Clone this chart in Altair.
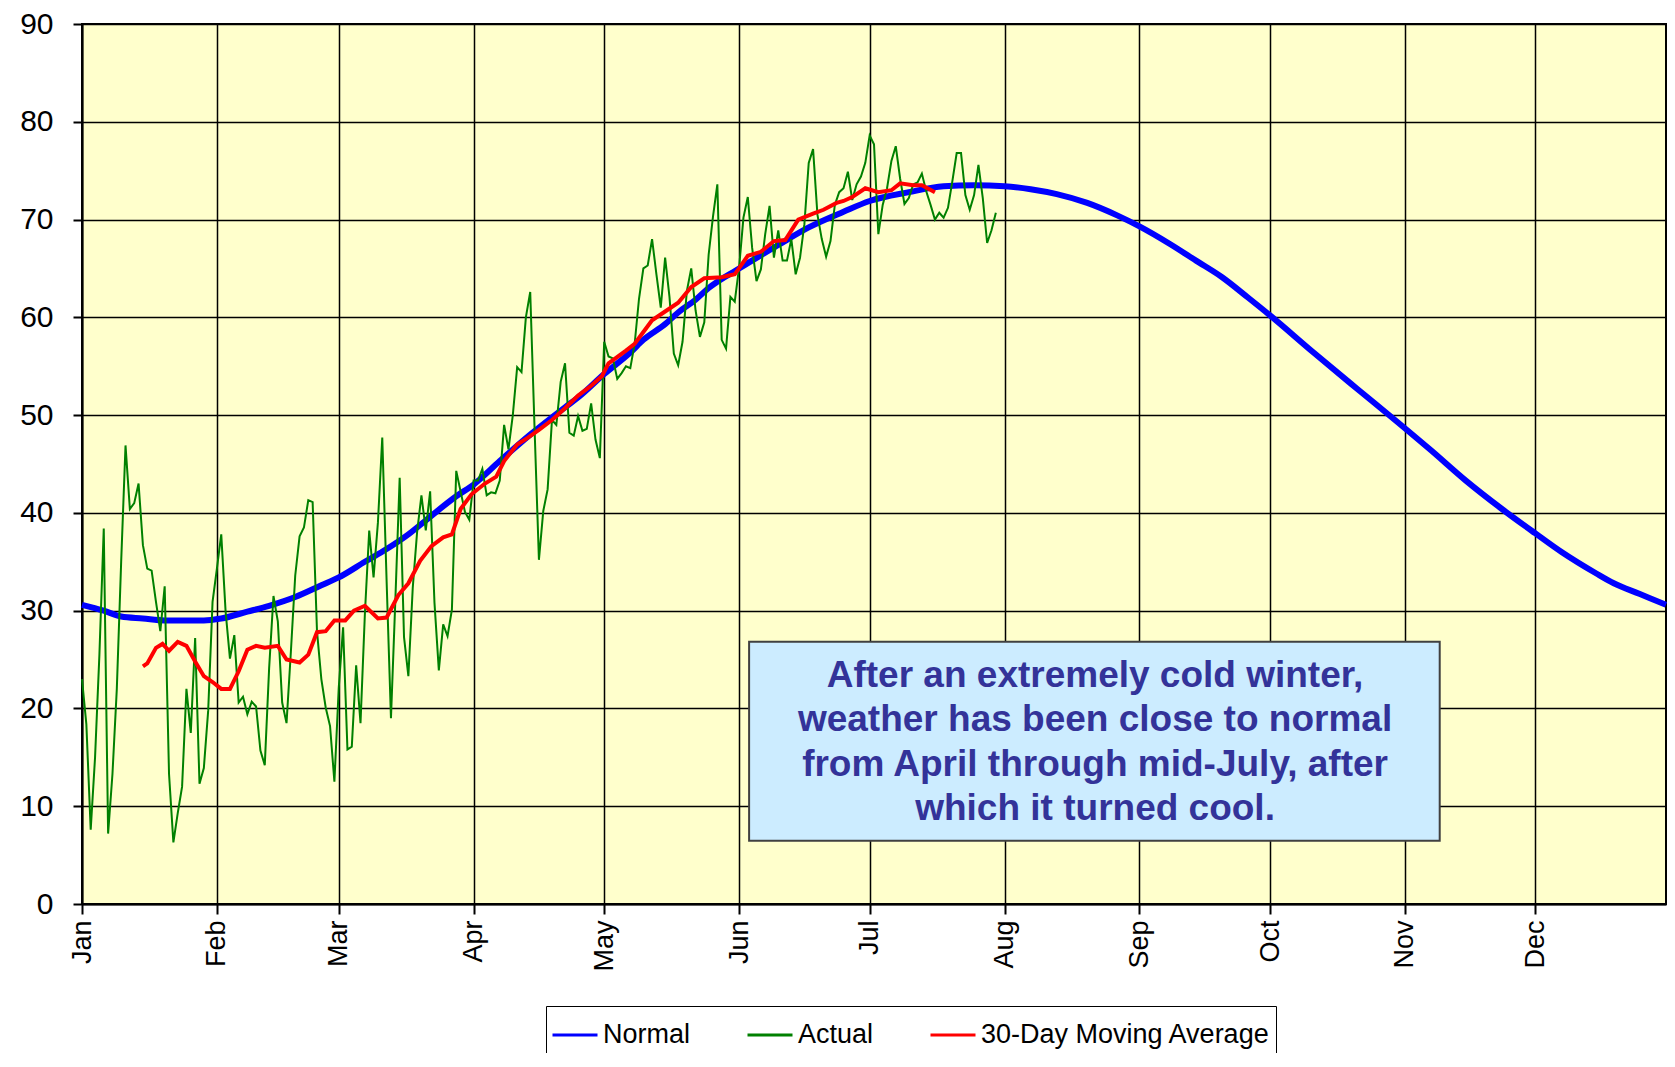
import altair as alt
import pandas as pd

# ---------------- data ----------------
MONTHS = ["Jan", "Feb", "Mar", "Apr", "May", "Jun",
          "Jul", "Aug", "Sep", "Oct", "Nov", "Dec"]
MONTH_START_DAYS = [0, 31, 59, 90, 120, 151, 181, 212, 243, 273, 304, 334]
Y_TICKS = [0, 10, 20, 30, 40, 50, 60, 70, 80, 90]

SERIES = ["Normal", "Actual", "30-Day Moving Average"]

# Normal (climatological) temperature, day of year -> degrees
normal_days = [0, 5, 9, 14, 19, 24, 28, 32, 38, 43,
               49, 55, 59, 65, 70, 75, 80, 86, 90, 96,
               103, 111, 114, 120, 126, 129, 134, 137, 141, 144,
               151, 160, 167, 175, 181, 190, 198, 205, 212, 218,
               224, 231, 238, 243, 250, 256, 262, 268, 273, 283,
               293, 302, 310, 318, 326, 334, 340, 348, 352, 358,
               364]
normal_temps = [30.6, 30.0, 29.4, 29.2, 29.0, 29.0, 29.0, 29.2, 29.9, 30.5,
                31.4, 32.6, 33.4, 35.0, 36.3, 37.8, 39.6, 41.7, 42.9, 45.3,
                48.0, 50.8, 51.8, 54.2, 56.4, 57.7, 59.3, 60.5, 61.8, 63.0,
                65.0, 67.4, 69.2, 70.8, 71.9, 72.8, 73.4, 73.5, 73.4, 73.1,
                72.6, 71.7, 70.4, 69.3, 67.5, 65.8, 64.1, 62.0, 60.2, 56.4,
                52.7, 49.4, 46.4, 43.3, 40.5, 37.9, 36.0, 33.8, 32.8, 31.7,
                30.6]

# Actual daily temperature, one value per day from Jan 1
actual_temps = [23.0, 18.4, 7.6, 15.0, 25.5, 38.4, 7.2, 13.3, 22.0, 35.0,
                46.9, 40.4, 41.0, 43.0, 36.7, 34.3, 34.1, 30.9, 27.9, 32.5,
                13.3, 6.3, 9.3, 12.0, 22.0, 17.5, 27.2, 12.3, 13.9, 19.8,
                30.9, 34.3, 37.8, 29.9, 25.1, 27.5, 20.6, 21.2, 19.4, 20.7,
                20.2, 15.7, 14.2, 24.1, 31.5, 28.9, 20.6, 18.5, 25.8, 33.6,
                37.6, 38.5, 41.3, 41.1, 27.9, 23.0, 20.1, 18.2, 12.5, 22.1,
                28.3, 15.8, 16.1, 24.4, 18.5, 29.6, 38.2, 33.4, 39.0, 47.7,
                33.0, 19.0, 31.0, 43.6, 27.3, 23.3, 32.3, 38.0, 41.8, 38.2,
                42.2, 30.8, 23.9, 28.6, 27.4, 30.1, 44.3, 42.2, 40.1, 39.3,
                43.3, 43.3, 44.5, 41.8, 42.1, 42.0, 43.3, 49.0, 46.5, 50.0,
                54.9, 54.4, 60.0, 62.6, 48.6, 35.2, 40.2, 42.4, 49.5, 49.0,
                53.4, 55.3, 48.2, 47.9, 49.9, 48.4, 48.6, 51.2, 47.5, 45.6,
                57.5, 56.0, 55.8, 53.7, 54.3, 55.0, 54.8, 57.3, 61.9, 65.0,
                65.3, 68.0, 64.4, 61.0, 66.1, 62.1, 56.3, 55.1, 57.5, 62.7,
                65.0, 60.7, 58.0, 59.5, 66.4, 70.3, 73.6, 57.7, 56.8, 62.1,
                61.6, 65.1, 70.2, 72.3, 67.1, 63.7, 64.9, 68.5, 71.4, 66.1,
                68.9, 65.8, 65.8, 68.0, 64.4, 66.1, 69.5, 75.8, 77.2, 70.5,
                68.0, 66.2, 67.8, 71.5, 72.8, 73.2, 74.9, 72.0, 73.6, 74.4,
                75.8, 78.6, 77.7, 68.5, 71.5, 73.2, 76.0, 77.5, 74.2, 71.6,
                72.2, 73.6, 73.8, 74.7, 72.9, 71.5, 70.0, 70.7, 70.2, 71.2,
                73.9, 76.8, 76.8, 72.5, 71.0, 72.5, 75.6, 72.2, 67.6, 68.9,
                70.7]
actual_days = list(range(len(actual_temps)))

# 30-day (centred) moving average as drawn
ma_days = [14, 15, 17, 18.5, 20, 22, 24, 26, 28, 30,
           32, 34, 36, 38, 40, 42, 45, 47, 50, 52,
           54, 56, 58, 60.5, 62.5, 65, 68, 70, 72.7, 75,
           77.7, 80.3, 83, 85, 87, 89.5, 92.6, 95.2, 97, 100,
           102.5, 105, 108, 111, 114, 117, 119.5, 121, 125, 127,
           131, 134, 137, 140, 143, 147, 150, 153, 156, 159,
           161.6, 164.6, 168, 170.4, 173.4, 175, 177, 180, 183, 186,
           188, 191, 193, 196]
ma_temps = [24.3, 24.6, 26.2, 26.6, 25.9, 26.8, 26.4, 24.8, 23.3, 22.7,
            22.0, 22.0, 23.8, 26.0, 26.4, 26.2, 26.4, 25.0, 24.7, 25.5,
            27.8, 27.9, 29.0, 29.0, 30.0, 30.5, 29.2, 29.3, 31.6, 32.8,
            35.1, 36.6, 37.5, 37.8, 40.4, 41.9, 43.0, 43.7, 45.3, 47.0,
            47.7, 48.5, 49.5, 50.7, 52.0, 53.0, 54.0, 55.3, 56.6, 57.3,
            59.7, 60.6, 61.5, 63.1, 64.0, 64.1, 64.4, 66.3, 66.7, 67.8,
            67.9, 70.0, 70.6, 71.0, 71.7, 71.9, 72.3, 73.2, 72.8, 73.0,
            73.7, 73.5, 73.5, 72.8]

NOTE_LINES = ["After an extremely cold winter,",
              "weather has been close to normal",
              "from April through mid-July, after",
              "which it turned cool."]

# ---------------- styling / placement ----------------
COLORS = ["#0000FF", "#008000", "#FF0000"]
LINE_WIDTHS = [6, 2, 3.5]          # Normal, Actual, 30-Day MA
# stroke-width point scale, thinnest (Actual) to thickest (Normal)
WIDTH_ORDER = ["Actual", "30-Day Moving Average", "Normal"]
WIDTH_RANGE = [2, 6]
PLOT_W, PLOT_H = 1584, 880
FONT = "Liberation Sans"

# annotation box placement, in data units (day, degrees)
NOTE_BOX_X = (153.3, 312.0)
NOTE_BOX_Y = (26.83, 6.47)
NOTE_TEXT_X = 232.8
NOTE_TEXT_Y = 22.22

# ---------------- tables ----------------
normal_df = pd.DataFrame({"day": normal_days, "temp": normal_temps, "series": SERIES[0]})
actual_df = pd.DataFrame({"day": actual_days, "temp": actual_temps, "series": SERIES[1]})
ma_df = pd.DataFrame({"day": ma_days, "temp": ma_temps, "series": SERIES[2]})
note_df = pd.DataFrame({"note": [" ".join(NOTE_LINES)]})

label_expr = ("[" + ",".join(f"'{m}'" for m in MONTHS) + "][indexof(["
              + ",".join(str(d) for d in MONTH_START_DAYS) + "], datum.value)]")

x_axis = alt.Axis(values=MONTH_START_DAYS, labelExpr=label_expr, labelAngle=270,
                  labelAlign="right", labelBaseline="middle", labelFont=FONT,
                  labelFontSize=27, labelColor="black", labelPadding=6,
                  labelFlush=False, labelOverlap=False,
                  tickSize=10, tickColor="black", tickWidth=2,
                  grid=True, gridColor="black", gridWidth=1.5,
                  domainColor="black", domainWidth=2, title=None)
y_axis = alt.Axis(values=Y_TICKS, labelFont=FONT, labelFontSize=30,
                  labelColor="black", labelPadding=20, labelFlush=False,
                  tickSize=9, tickColor="black", tickWidth=2,
                  grid=True, gridColor="black", gridWidth=1.5,
                  domainColor="black", domainWidth=2, title=None)

x_enc = alt.X("day:Q", scale=alt.Scale(domain=[0, 364], nice=False, zero=False), axis=x_axis)
y_enc = alt.Y("temp:Q", scale=alt.Scale(domain=[0, 90], nice=False), axis=y_axis)

width_expr = " : ".join(
    f"datum.value === '{s}' ? {w}" for s, w in zip(SERIES[:-1], LINE_WIDTHS[:-1])
) + f" : {LINE_WIDTHS[-1]}"
width_conditions = [{"test": f"datum.value === '{s}'", "value": w}
                    for s, w in zip(SERIES[:-1], LINE_WIDTHS[:-1])]


def build(symbol_encode):
    legend_kw = dict(title=None, orient="none", legendX=464, legendY=982,
                     direction="horizontal", symbolType="stroke", symbolSize=2025,
                     symbolStrokeWidth=3,
                     labelFont=FONT, labelFontSize=27, labelColor="black",
                     labelOffset=4, labelLimit=500, columnPadding=50,
                     strokeColor="black", fillColor="white", padding=5)
    if symbol_encode is not None:
        legend_kw["encode"] = symbol_encode
    legend = alt.Legend(**legend_kw)
    color_enc = alt.Color("series:N", scale=alt.Scale(domain=SERIES, range=COLORS), legend=legend)
    width_enc = alt.StrokeWidth("series:N",
                                scale=alt.Scale(type="point", domain=WIDTH_ORDER,
                                                range=WIDTH_RANGE, padding=0),
                                legend=None)
    normal_line = alt.Chart(normal_df).mark_line(interpolate="monotone").encode(
        x=x_enc, y=y_enc, color=color_enc, strokeWidth=width_enc)
    actual_line = alt.Chart(actual_df).mark_line().encode(
        x=x_enc, y=y_enc, color=color_enc, strokeWidth=width_enc)
    ma_line = alt.Chart(ma_df).mark_line().encode(
        x=x_enc, y=y_enc, color=color_enc, strokeWidth=width_enc)
    note_box = alt.Chart(note_df).mark_rect(fill="#CCECFF", stroke="#404040", strokeWidth=2).encode(
        x=alt.datum(NOTE_BOX_X[0]), x2=alt.datum(NOTE_BOX_X[1]),
        y=alt.datum(NOTE_BOX_Y[0]), y2=alt.datum(NOTE_BOX_Y[1]))
    note_text = alt.Chart(note_df).mark_text(
        text=NOTE_LINES, font=FONT, fontSize=37, fontWeight="bold", color="#333399",
        align="center", baseline="alphabetic", lineHeight=44.5).encode(
        x=alt.datum(NOTE_TEXT_X), y=alt.datum(NOTE_TEXT_Y))
    return alt.layer(normal_line, actual_line, ma_line, note_box, note_text).properties(
        width=PLOT_W, height=PLOT_H,
        padding={"left": 74, "top": 16, "right": 1, "bottom": 149},
        autosize=alt.AutoSizeParams(type="none"),
        background="white",
    ).configure_view(fill="#FFFFCC", stroke="black", strokeWidth=2)


attempts = [
    {"symbols": {"strokeWidth": {"condition": width_conditions, "value": LINE_WIDTHS[-1]}}},
    {"symbols": {"strokeWidth": {"value": {"expr": width_expr}}}},
    None,
]
for enc in attempts:
    try:
        chart = build(enc)
        chart.to_dict()
        break
    except Exception:
        continue

chart.save("out.html", embed_options={"renderer": "svg", "actions": False})
